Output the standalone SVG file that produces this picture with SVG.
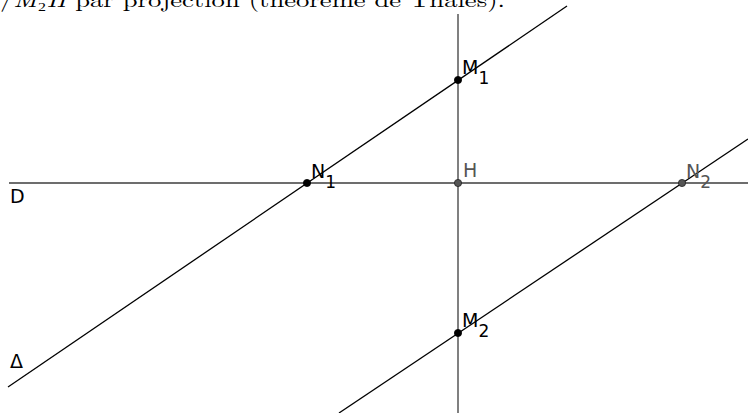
<svg xmlns="http://www.w3.org/2000/svg" width="748" height="413" viewBox="0 0 748 413">
<style>
.cap{font-family:"Latin Modern Roman","Liberation Serif",serif;font-size:21px;fill:#000}
.lbl{font-family:"DejaVu Sans",sans-serif;font-size:19px;fill:#000}
.sub{font-size:17px}
.gray{fill:#555}
.ln{stroke:#000;stroke-width:1.3;fill:none}
.axis{stroke:#3c3c3c;stroke-width:1.3;fill:none}
.pt{fill:#000;stroke:#000;stroke-width:0.8}
.ptg{fill:#555;stroke:#222;stroke-width:0.8}
</style>
<rect width="748" height="413" fill="#fff"/>
<text class="cap" x="0" y="7" textLength="505" lengthAdjust="spacingAndGlyphs">/<tspan font-style="italic">M</tspan>₂<tspan font-style="italic">H</tspan> par projection (théorème de Thalès).</text>
<g id="connectors">
<line class="axis" x1="9" y1="183" x2="748" y2="183"/>
<line class="axis" x1="458" y1="14" x2="458" y2="413"/>
<line class="ln" x1="8" y1="387" x2="567" y2="6"/>
<line class="ln" x1="339" y1="413" x2="748" y2="139"/>
</g>
<g id="M1"><circle class="pt" cx="458" cy="80" r="3.6"/><text class="lbl" x="462" y="74">M<tspan class="sub" dy="10">1</tspan></text></g>
<g id="N1"><circle class="pt" cx="307" cy="183" r="3.6"/><text class="lbl" x="311" y="178">N<tspan class="sub" dy="10">1</tspan></text></g>
<g id="H"><circle class="ptg" cx="458" cy="183" r="3.6"/><text class="lbl gray" x="463" y="177">H</text></g>
<g id="N2"><circle class="ptg" cx="682" cy="183" r="3.6"/><text class="lbl gray" x="686" y="178">N<tspan class="sub" dy="10">2</tspan></text></g>
<g id="M2"><circle class="pt" cx="458" cy="333" r="3.6"/><text class="lbl" x="462" y="327">M<tspan class="sub" dy="10">2</tspan></text></g>
<g id="D"><text class="lbl" x="10" y="203">D</text></g>
<g id="Delta"><text class="lbl" x="10" y="368">Δ</text></g>
</svg>
